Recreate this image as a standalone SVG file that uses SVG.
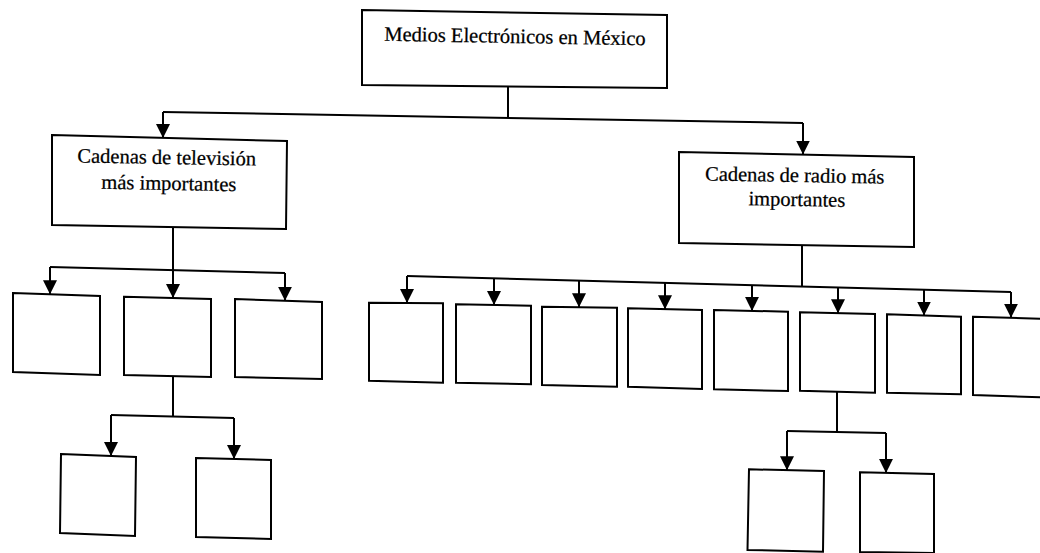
<svg xmlns="http://www.w3.org/2000/svg" width="1040" height="553" viewBox="0 0 1040 553">
  <defs>
    <style>
      .box { fill: #ffffff; stroke: #000000; stroke-width: 2; stroke-linejoin: miter; }
      .wire { fill: none; stroke: #000000; stroke-width: 2; }
      .arrow { fill: none; stroke: #000000; stroke-width: 2; marker-end: url(#head); }
      .label { font-family: "Liberation Serif", "Times New Roman", serif; font-size: 20.5px; fill: #000000; stroke: #000000; stroke-width: 0.25; text-anchor: middle; }
    </style>
    <marker id="head" markerUnits="userSpaceOnUse" markerWidth="15" markerHeight="15" refX="14" refY="7" orient="auto">
      <path d="M0,0 L14,7 L0,14 Z" fill="#000000"/>
    </marker>
  </defs>

  <rect width="1040" height="553" fill="#ffffff"/>

  <!-- connectors -->
  <g id="connectors">
    <!-- root to the two chains -->
    <path class="wire" d="M508,87 V118"/>
    <path class="wire" d="M163,112 L803,123"/>
    <path class="arrow" d="M163,112 V138"/>
    <path class="arrow" d="M803,123 V154.5"/>

    <!-- television chain to its three children -->
    <path class="wire" d="M173,228 V270"/>
    <path class="wire" d="M50,267 L285,273"/>
    <path class="arrow" d="M50,267 V294.3"/>
    <path class="arrow" d="M173,270 V298"/>
    <path class="arrow" d="M285,273 V300.7"/>

    <!-- second television child to its two children -->
    <path class="wire" d="M173,376 V416.5"/>
    <path class="wire" d="M111,415 L234,418"/>
    <path class="arrow" d="M111,415 V456"/>
    <path class="arrow" d="M234,418 V459"/>

    <!-- radio chain to its eight children -->
    <path class="wire" d="M802,245 V286.5"/>
    <path class="wire" d="M407,276 L1011,292"/>
    <path class="arrow" d="M407,276 V303"/>
    <path class="arrow" d="M494,278.3 V305"/>
    <path class="arrow" d="M579,280.6 V307.2"/>
    <path class="arrow" d="M665,282.8 V309.2"/>
    <path class="arrow" d="M752,285.1 V310.9"/>
    <path class="arrow" d="M838,287.4 V313.2"/>
    <path class="arrow" d="M924,289.6 V315.5"/>
    <path class="arrow" d="M1011,291.9 V317.8"/>

    <!-- sixth radio child to its two children -->
    <path class="wire" d="M837,391.7 V432"/>
    <path class="wire" d="M787,431 L886,433"/>
    <path class="arrow" d="M787,431 V470.2"/>
    <path class="arrow" d="M886,433 V472.9"/>
  </g>

  <!-- root -->
  <g id="root">
    <polygon class="box" points="362,10 667,15 667,88 362,85"/>
    <text class="label" x="515" y="43" transform="rotate(1 515 37)">Medios Electrónicos en México</text>
  </g>

  <!-- television chain -->
  <g id="tv">
    <polygon class="box" points="52,135 287,141 286,229 52,225"/>
    <text class="label" transform="rotate(1 169 176)">
      <tspan x="169" y="164">Cadenas de televisión</tspan>
      <tspan x="169" y="190">más importantes</tspan>
    </text>
  </g>
  <g id="tv-1"><polygon class="box" points="13,293 100,296 100,375 13,372"/></g>
  <g id="tv-2"><polygon class="box" points="124,296.7 211,299 211,377 124,375"/></g>
  <g id="tv-3"><polygon class="box" points="235,299 322,302 322,379 235,377"/></g>
  <g id="tv-2-1"><polygon class="box" points="61,454 136,457 135,536 60,533"/></g>
  <g id="tv-2-2"><polygon class="box" points="196,458 271,460 271,539 196,537"/></g>

  <!-- radio chain -->
  <g id="radio">
    <polygon class="box" points="679,152 914,157 914,247 679,243"/>
    <text class="label" transform="rotate(1 797 194)">
      <tspan x="797" y="182">Cadenas de radio más</tspan>
      <tspan x="797" y="206">importantes</tspan>
    </text>
  </g>
  <g id="radio-1"><polygon class="box" points="369,302.7 443,303.3 443,382.7 369,380.7"/></g>
  <g id="radio-2"><polygon class="box" points="456,304.3 531,305.7 531,384.3 456,382.7"/></g>
  <g id="radio-3"><polygon class="box" points="542,306.7 617,307.7 617,386.7 542,385"/></g>
  <g id="radio-4"><polygon class="box" points="628,308.3 702,310 702,389 628,386.7"/></g>
  <g id="radio-5"><polygon class="box" points="714,310 788,311.7 788,391 714,389.3"/></g>
  <g id="radio-6"><polygon class="box" points="800,312.3 875,314 875,392.7 800,390.7"/></g>
  <g id="radio-7"><polygon class="box" points="887,314.3 961,316.7 961,394.3 887,392.7"/></g>
  <g id="radio-8"><polygon class="box" points="973,316.7 1048,319 1048,397.5 973,395"/></g>
  <g id="radio-6-1"><polygon class="box" points="749,469.3 824,471 823,551.7 747.5,550"/></g>
  <g id="radio-6-2"><polygon class="box" points="860,472.3 934,474 934,553 860,552"/></g>
</svg>
